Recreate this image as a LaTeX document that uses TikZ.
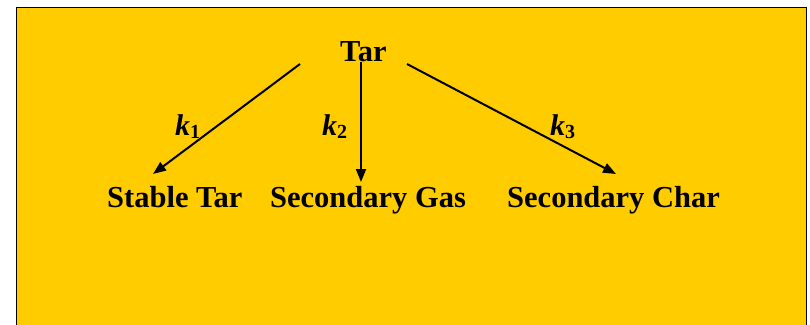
\documentclass[tikz,border=0pt]{standalone}
\usepackage{fontspec}
\setmainfont{Liberation Serif}
\usetikzlibrary{arrows.meta}
\begin{document}
\begin{tikzpicture}[x=1pt, y=-1pt,
      especie/.style={anchor=base west, inner sep=0pt, font=\fontsize{30.5}{36}\selectfont\bfseries},
      constante/.style={anchor=base west, inner sep=0pt, font=\fontsize{30}{36}\selectfont\bfseries},
      reaccion/.style={line width=2pt, -{Triangle[length=13pt,width=10pt]}}]
      % Fondo
      \useasboundingbox[fill=white] (0,0) rectangle (810,324);
      \fill[fill={rgb,255:red,255;green,204;blue,0}, draw=black, line width=1pt]
        (16.5,7.5) rectangle (806.5,340);

      % Especies
      \node[especie] (tar) at (340,61) {Tar};
      \node[especie] (stable) at (107,207) {Stable Tar};
      \node[especie] (gas) at (270,207) {Secondary Gas};
      \node[especie] (char) at (507,207) {Secondary Char};

      % Puntos de salida y llegada
      \coordinate (s1) at (300,64);
      \coordinate (s2) at (361,62);
      \coordinate (s3) at (407,64);
      \coordinate (e1) at (153,174);
      \coordinate (e2) at (361,182);
      \coordinate (e3) at (616,174);

      % Reacciones
      \draw[reaccion] (s1) -- (e1);
      \draw[reaccion] (s2) -- (e2);
      \draw[reaccion] (s3) -- (e3);

      % Constantes cineticas
      \node[constante] (k1) at (175,135) {\itshape k\raisebox{-0.25ex}{\fontsize{20}{24}\selectfont\upshape 1}};
      \node[constante] (k2) at (322,135) {\itshape k\raisebox{-0.25ex}{\fontsize{20}{24}\selectfont\upshape 2}};
      \node[constante] (k3) at (550,135) {\itshape k\raisebox{-0.25ex}{\fontsize{20}{24}\selectfont\upshape 3}};
    \end{tikzpicture}
\end{document}
